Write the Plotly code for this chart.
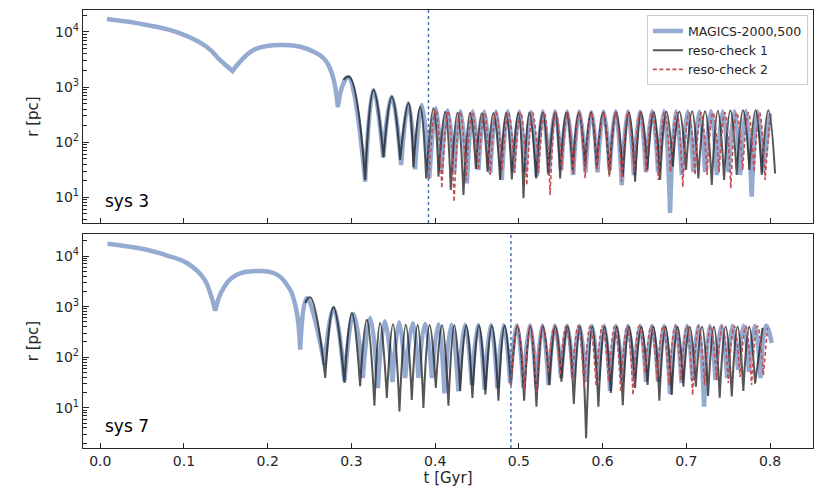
import plotly.graph_objects as go

# values: t [Gyr], r [pc]
# extrema (apo / peri) listed in time order

# ---- sys 3 ----
sys3_magics_t = [0.008, 0.0557, 0.0955, 0.127, 0.143, 0.158, 0.167, 0.183, 0.199, 0.219, 0.239,
                 0.2547, 0.2667, 0.2766, 0.2838, 0.2905, 0.2965, 0.3164, 0.3264, 0.338, 0.348,
                 0.3594, 0.368, 0.376, 0.384, 0.393, 0.401, 0.4072, 0.4149, 0.4227, 0.4302,
                 0.4379, 0.4448, 0.4517, 0.4587, 0.4657, 0.4727, 0.4796, 0.4866, 0.4935, 0.5005,
                 0.5075, 0.5145, 0.5214, 0.5287, 0.5359, 0.5432, 0.5504, 0.5576, 0.5648, 0.5722,
                 0.5795, 0.5867, 0.5939, 0.6012, 0.6084, 0.6156, 0.6229, 0.6302, 0.6374, 0.6447,
                 0.6518, 0.6591, 0.6663, 0.6734, 0.6806, 0.6876, 0.6946, 0.7016, 0.7085, 0.7155,
                 0.7224, 0.7294, 0.7365, 0.7435, 0.7504, 0.7574, 0.7642, 0.7712, 0.7781, 0.785,
                 0.7916, 0.800]
sys3_magics_r = [17200, 13400, 9470, 5400, 3100, 1960, 2900, 4710, 5570, 5800, 5400,
                 4390, 3330, 1780, 430, 1170, 1510, 19.2, 885, 53, 670,
                 38.6, 508, 32, 473, 22.1, 412, 28.5, 375, 28.5, 365,
                 17.9, 365, 31.3, 360, 27.6, 360, 20.6, 365, 28.5, 360,
                 28.5, 355, 23.7, 360, 27.6, 365, 31.3, 360, 25.4, 360,
                 28.5, 355, 28.5, 360, 31.3, 365, 16.7, 360, 25.4, 360,
                 28.5, 365, 28.5, 370, 5.2, 365, 25.4, 360, 28.5, 360,
                 28.5, 365, 25.4, 360, 28.5, 365, 25.4, 370, 10.3, 365,
                 28.5, 330]

sys3_reso1_t = [0.2905, 0.2975, 0.3164, 0.3264, 0.3383, 0.3483, 0.3582, 0.3681, 0.3741, 0.3821,
                0.3893, 0.398, 0.404, 0.412, 0.4187, 0.4267, 0.4338, 0.4418, 0.4486, 0.4557,
                0.4625, 0.4697, 0.4776, 0.4848, 0.4916, 0.4995, 0.5055, 0.5126, 0.5206, 0.5286,
                0.5353, 0.5433, 0.5493, 0.5568, 0.5644, 0.5717, 0.5791, 0.5861, 0.5931, 0.6006,
                0.6081, 0.6161, 0.6241, 0.6314, 0.6388, 0.646, 0.6535, 0.6611, 0.6687, 0.6762,
                0.6838, 0.6917, 0.6997, 0.7069, 0.7144, 0.7224, 0.7304, 0.7377, 0.7451, 0.7526,
                0.7602, 0.7678, 0.7753, 0.7827, 0.7901, 0.798, 0.806]
sys3_reso1_r = [1350, 1545, 20.6, 885, 53, 670, 48, 508, 35, 441,
                22.1, 412, 23.7, 358, 13.6, 343, 11.0, 343, 32.6, 335,
                29.2, 340, 20.6, 340, 21, 340, 9.6, 345, 22.1, 345,
                25.4, 345, 22.1, 345, 31.3, 345, 35.9, 350, 33.6, 350,
                25.4, 350, 23.7, 350, 19.2, 355, 31.3, 355, 20.6, 360,
                35.9, 360, 31.3, 365, 22.1, 365, 16.7, 370, 20.6, 375,
                25.4, 380, 31.3, 380, 25.4, 380, 27]

sys3_reso2_t = [0.3925, 0.4006, 0.408, 0.4154, 0.4227, 0.4299, 0.437, 0.4444, 0.4517, 0.4587,
                0.4657, 0.4728, 0.48, 0.4875, 0.4949, 0.5022, 0.5095, 0.5165, 0.5236, 0.5305,
                0.5373, 0.5443, 0.5513, 0.5582, 0.5651, 0.5722, 0.5791, 0.5863, 0.5934, 0.6008,
                0.6081, 0.6155, 0.6229, 0.6303, 0.6376, 0.6448, 0.6519, 0.6593, 0.6666, 0.6739,
                0.6812, 0.6885, 0.6958, 0.7031, 0.7104, 0.7176, 0.7248, 0.7319, 0.7391, 0.7461,
                0.7531, 0.7602, 0.7674, 0.7742, 0.7809, 0.7875, 0.794, 0.800]
sys3_reso2_r = [22, 390, 14.6, 370, 8.3, 360, 20.6, 350, 31.3, 345,
                25.4, 345, 31.3, 345, 27.6, 345, 16.7, 345, 27.6, 345,
                11.0, 345, 31.3, 345, 25.4, 345, 22.1, 345, 31.3, 345,
                23.7, 345, 19.2, 345, 28.5, 345, 29.2, 345, 20.6, 345,
                28.5, 345, 15.6, 345, 25.4, 345, 25.4, 345, 28.5, 345,
                14.6, 345, 31.3, 345, 28.5, 345, 20.6, 300]

# ---- sys 7 ----
sys7_magics_t = [0.0087, 0.0557, 0.079, 0.1035, 0.1234, 0.1313, 0.1373, 0.1473, 0.1632, 0.183,
                 0.207, 0.223, 0.2328, 0.2388, 0.2468, 0.2679, 0.2786, 0.2917, 0.3025, 0.3136,
                 0.3224, 0.3316, 0.340, 0.349, 0.357, 0.3642, 0.3734, 0.380, 0.388, 0.3962,
                 0.404, 0.4111, 0.4195, 0.4278, 0.4358, 0.4438, 0.4515, 0.4591, 0.4667, 0.4744,
                 0.482, 0.4896, 0.4975, 0.5054, 0.5132, 0.521, 0.5282, 0.5355, 0.543, 0.5504,
                 0.5576, 0.5648, 0.5723, 0.5797, 0.5872, 0.5946, 0.6018, 0.609, 0.6161, 0.6233,
                 0.6304, 0.6376, 0.6448, 0.6519, 0.6591, 0.6663, 0.6734, 0.6806, 0.6875, 0.6943,
                 0.7009, 0.7075, 0.7144, 0.7212, 0.7281, 0.7349, 0.7418, 0.7487, 0.7552, 0.7618,
                 0.7684, 0.7749, 0.7818, 0.7887, 0.7952, 0.802]
sys7_magics_r = [17500, 13300, 10300, 7280, 3670, 1860, 830, 2330, 4270, 4990,
                 4610, 2710, 1090, 141, 1480, 71, 938, 33.4, 715, 38.8,
                 596, 24.6, 512, 32.4, 489, 38.8, 474, 38.8, 460, 38.8,
                 450, 19.3, 440, 21.2, 440, 28.2, 435, 22.8, 435, 24.3,
                 430, 30.9, 430, 24.6, 425, 24.6, 425, 28.2, 425, 38.8,
                 420, 38.5, 420, 32.4, 420, 35.4, 420, 21.5, 420, 35.4,
                 420, 38.8, 420, 32.4, 420, 32.4, 420, 18.7, 420, 30.9,
                 420, 35.4, 420, 10.5, 420, 35.4, 420, 38.8, 420, 56,
                 420, 51, 420, 38.8, 420, 191]

sys7_reso1_t = [0.2448, 0.2507, 0.2687, 0.2786, 0.2917, 0.3005, 0.3104, 0.3184, 0.3275, 0.3343,
                0.3423, 0.3497, 0.3574, 0.365, 0.3721, 0.3791, 0.386, 0.3934, 0.4008, 0.4082,
                0.4159, 0.4229, 0.4299, 0.4372, 0.4445, 0.4523, 0.46, 0.4678, 0.4756, 0.483,
                0.4904, 0.4984, 0.5063, 0.5137, 0.521, 0.5287, 0.5364, 0.5436, 0.5508, 0.5582,
                0.5656, 0.573, 0.5803, 0.5877, 0.595, 0.6024, 0.6098, 0.617, 0.6241, 0.6315,
                0.6388, 0.6463, 0.6537, 0.6608, 0.6678, 0.6752, 0.6826, 0.6896, 0.6965, 0.704,
                0.7114, 0.7187, 0.726, 0.733, 0.7399, 0.747, 0.7543, 0.7612, 0.7681, 0.7752,
                0.7821, 0.791]
sys7_reso1_r = [1180, 1530, 38.8, 968, 30.9, 748, 26.6, 551, 11.0, 474,
                15.6, 450, 8.5, 440, 14.3, 433, 9.9, 433, 24.6, 430,
                11.0, 430, 21.5, 425, 15.6, 425, 18.4, 420, 13.8, 420,
                28.2, 415, 13.8, 415, 10.5, 410, 28.2, 410, 33, 410,
                11.9, 405, 2.5, 405, 10.5, 400, 19.6, 400, 11.3, 400,
                24.6, 400, 28.2, 400, 13.8, 400, 17.9, 400, 26.1, 400,
                26.1, 400, 17.1, 400, 15.8, 400, 16.7, 400, 21.6, 400,
                30.2, 380]

sys7_reso2_t = [0.4904, 0.4985, 0.5066, 0.5138, 0.521, 0.5281, 0.5353, 0.5423, 0.5493, 0.5564,
                0.5636, 0.5707, 0.5779, 0.5851, 0.5922, 0.5997, 0.6072, 0.6144, 0.6217, 0.6291,
                0.6364, 0.6436, 0.6507, 0.6579, 0.6651, 0.6722, 0.6794, 0.6866, 0.6937, 0.7006,
                0.7075, 0.7146, 0.7218, 0.7289, 0.7361, 0.7432, 0.7502, 0.7572, 0.7642, 0.7711,
                0.7779, 0.785, 0.792, 0.797]
sys7_reso2_r = [28.2, 415, 22.5, 415, 20.5, 415, 48.7, 415, 44.5, 415,
                35.4, 415, 24.6, 415, 26.8, 415, 32.4, 415, 20.5, 415,
                17.9, 415, 48.7, 415, 35.4, 415, 28.2, 415, 35.4, 415,
                17.9, 415, 28.2, 415, 35.4, 415, 30.9, 415, 40.6, 415,
                28.2, 415, 44.5, 380]

sys_labels = ['sys 3', 'sys 7']
t_switch = [0.392, 0.4905]
names = ['MAGICS-2000,500', 'reso-check 1', 'reso-check 2']

BLUE = 'rgba(76,114,176,0.6)'
DARK = 'rgba(30,30,30,0.75)'
RED = '#c44e52'
INK = '#262626'


def with_cusps(t, r):
    # repeat the pericentre points so the spline gives sharp dips
    tt, rr = [], []
    for i in range(len(t)):
        tt.append(t[i])
        rr.append(r[i])
        if 0 < i < len(t) - 1 and r[i] < r[i - 1] and r[i] < r[i + 1]:
            tt.append(t[i])
            rr.append(r[i])
    return tt, rr


def add_curves(fig, series, xa, ya, legend):
    styles = [dict(color=BLUE, width=4.5),
              dict(color=DARK, width=2),
              dict(color=RED, width=1.6, dash='4px,2.5px')]
    for (t, r), name, st in zip(series, names, styles):
        tt, rr = with_cusps(t, r)
        fig.add_trace(go.Scatter(x=tt, y=rr, mode='lines', name=name, xaxis=xa, yaxis=ya,
                                 line=dict(shape='spline', smoothing=1.3, simplify=False, **st),
                                 showlegend=legend))


fig = go.Figure()
add_curves(fig, [(sys3_magics_t, sys3_magics_r), (sys3_reso1_t, sys3_reso1_r),
                 (sys3_reso2_t, sys3_reso2_r)], 'x', 'y', True)
add_curves(fig, [(sys7_magics_t, sys7_magics_r), (sys7_reso1_t, sys7_reso1_r),
                 (sys7_reso2_t, sys7_reso2_r)], 'x2', 'y2', False)

# empty traces so the overlay axes (minor ticks only) get drawn
for xa, ya in [('x', 'y3'), ('x2', 'y4')]:
    fig.add_trace(go.Scatter(x=[None], y=[None], xaxis=xa, yaxis=ya, mode='lines',
                             showlegend=False, hoverinfo='skip'))

ytv = [10, 100, 1000, 10000]
ytt = ['10<sup>1</sup>', '10<sup>2</sup>', '10<sup>3</sup>', '10<sup>4</sup>']
yrange_top = [0.534, 4.399]
yrange_bot = [0.2055, 4.435]

common_x = dict(range=[-0.0206, 0.8513], tick0=0, dtick=0.1, ticks='inside', ticklen=5,
                tickcolor=INK, showline=True, linecolor=INK, linewidth=1.3, mirror=True,
                showgrid=False, zeroline=False, automargin=False, tickfont=dict(size=14))
common_y = dict(type='log', tickmode='array', tickvals=ytv, ticktext=ytt, ticks='inside',
                ticklen=6, tickcolor=INK, showline=True, linecolor=INK, linewidth=1.3,
                mirror=True, showgrid=False, zeroline=False, automargin=False,
                tickfont=dict(size=14),
                title=dict(text='r [pc]', standoff=12, font=dict(size=15)))
minor_y = dict(type='log', dtick='D1', ticks='inside', ticklen=3.5, tickwidth=1, tickcolor=INK,
               showticklabels=False, showline=False, showgrid=False, zeroline=False,
               automargin=False, side='left')

# the page body adds an 8 px offset, so the figure is a bit smaller than the window
fig.update_layout(
    width=814, height=482,
    margin=dict(l=75, r=9, t=2, b=42),
    paper_bgcolor='white', plot_bgcolor='white',
    font=dict(family='DejaVu Sans', size=13, color=INK),
    xaxis=dict(domain=[0, 1], anchor='y', showticklabels=False, **common_x),
    yaxis=dict(domain=[0.5137, 1], anchor='x', range=yrange_top, **common_y),
    xaxis2=dict(domain=[0, 1], anchor='y2', matches='x', tickformat='.1f',
                title=dict(text='t [Gyr]', standoff=4, font=dict(size=15)), **common_x),
    yaxis2=dict(domain=[0, 0.4886], anchor='x2', range=yrange_bot, **common_y),
    yaxis3=dict(overlaying='y', anchor='x', range=yrange_top, **minor_y),
    yaxis4=dict(overlaying='y2', anchor='x2', range=yrange_bot, **minor_y),
    legend=dict(x=0.993, y=0.988, xanchor='right', yanchor='top', bgcolor='rgba(255,255,255,0.85)',
                bordercolor='#cccccc', borderwidth=1, font=dict(size=12.5), itemwidth=30,
                tracegroupgap=0),
)

for i, (lab, ts) in enumerate(zip(sys_labels, t_switch)):
    xa = 'x' if i == 0 else 'x2'
    ya = 'y' if i == 0 else 'y2'
    fig.add_shape(type='line', xref=xa, yref=ya + ' domain', x0=ts, x1=ts, y0=0, y1=1,
                  line=dict(color='#4c72b0', width=1.5, dash='dot'))
    fig.add_annotation(text=lab, xref=xa + ' domain', yref=ya + ' domain', x=0.028, y=0.045,
                       xanchor='left', yanchor='bottom', showarrow=False,
                       font=dict(size=17, color='black'))

fig.write_html("out.html")
